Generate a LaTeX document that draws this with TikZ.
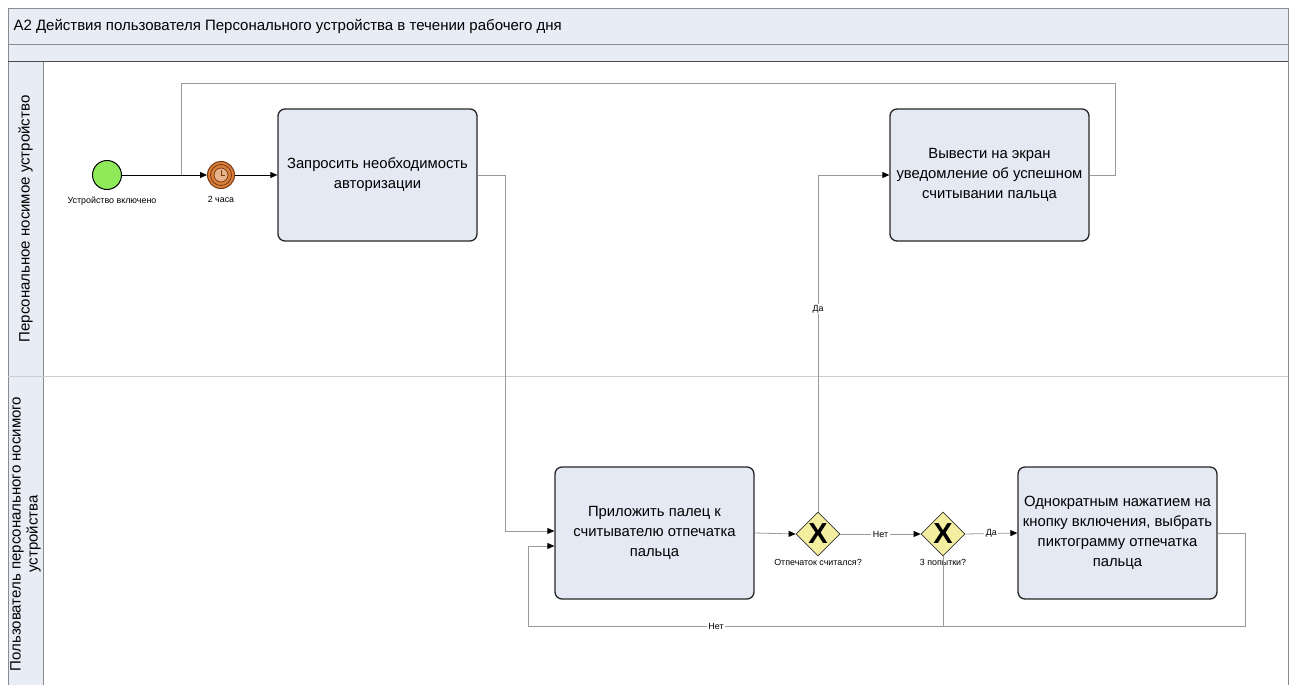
\documentclass[tikz,border=0pt]{standalone}
\usepackage{fontspec}
\setmainfont{Liberation Sans}
\usetikzlibrary{arrows.meta,shapes.geometric,calc}
\definecolor{bandfill}{HTML}{E8ECF4}
\definecolor{taskfill}{HTML}{E4E9F4}
\definecolor{gwfill}{HTML}{F4EFA0}
\definecolor{startfill}{HTML}{8FEA5A}
\definecolor{timerfill}{HTML}{D9803C}
\definecolor{timerdark}{HTML}{7A3A12}
\definecolor{frameline}{HTML}{8C8C8C}
\definecolor{flowgray}{HTML}{9A9A9A}
\tikzset{
  task/.style={draw=black!85, line width=1.3pt, rounded corners=7pt, fill=taskfill,
    minimum width=199pt, minimum height=132pt, align=center,
    inner sep=1pt, font=\fontsize{14.8}{19.8}\selectfont},
  gateway/.style={shape=diamond, draw=black!80, line width=0.8pt, fill=gwfill,
    minimum width=44pt, minimum height=44pt, inner sep=0pt,
    font=\fontsize{29}{29}\selectfont\bfseries},
  small/.style={font=\fontsize{8.9}{10}\selectfont},
  flowlbl/.style={font=\fontsize{8.9}{10}\selectfont, fill=white, inner sep=1.5pt},
  tip/.style={-{Triangle[length=7pt,width=6pt,color=black]}},
  blackflow/.style={draw=black, line width=0.8pt, tip},
  grayflow/.style={draw=flowgray, line width=0.8pt, tip},
  grayline/.style={draw=flowgray, line width=0.8pt},
}
\begin{document}
\begin{tikzpicture}[x=1pt,y=-1pt]
\useasboundingbox (0,0) rectangle (1294,685);
% pool frame
\fill[bandfill] (8,8) rectangle (1288,62);
\fill[bandfill] (8,62) rectangle (43,690);
\draw[frameline, line width=0.8pt] (8,690) -- (8,8) -- (1288,8) -- (1288,690);
\draw[frameline, line width=0.8pt] (8,44) -- (1288,44);
\draw[black!70, line width=1pt] (8,62) -- (1288,62);
\draw[frameline, line width=0.8pt] (43,62) -- (43,690);
\draw[black!20, line width=0.8pt] (8,376) -- (1288,376);
\node[anchor=west, font=\fontsize{15}{17}\selectfont] (title) at (10,26)
  {A2 Действия пользователя Персонального устройства в течении рабочего дня};
\node[rotate=90, font=\fontsize{15}{17}\selectfont] (lane1) at (25.5,219)
  {Персональное носимое устройство};
\node[rotate=90, align=center, font=\fontsize{15}{17}\selectfont] (lane2) at (25.5,534)
  {Пользователь персонального носимого\\устройства};

% events
\node[circle, draw=black, line width=1pt, fill=startfill, minimum size=29pt, inner sep=0pt] (start) at (107,175) {};
\node[small, anchor=north] (startlbl) at (112,193) {Устройство включено};
\node[circle, draw=timerdark, line width=1pt, fill=timerfill, minimum size=27pt, inner sep=0pt] (timer) at (221,175) {};
\draw[timerdark, line width=0.8pt] (timer.center) circle (10.5pt);
\draw[timerdark, fill=timerfill!60, line width=0.8pt] (timer.center) circle (7pt);
\draw[timerdark, line width=0.9pt] (timer.center) -- ++(0,-5) (timer.center) -- ++(4,0);
\node[small, anchor=north] (timerlbl) at (221,193) {2 часа};

% tasks
\node[task] (t1) at (377.5,175) {Запросить необходимость\\авторизации};
\node[task] (t2) at (989.5,175) {Вывести на экран\\уведомление об успешном\\считывании пальца};
\node[task] (t3) at (654.5,533) {Приложить палец к\\считывателю отпечатка\\пальца};
\node[task] (t4) at (1117.5,533) {Однократным нажатием на\\кнопку включения, выбрать\\пиктограмму отпечатка\\пальца};

% gateways
\node[gateway] (g1) at (818,534) {X};
\node[small, anchor=north] (g1lbl) at (818,556) {Отпечаток считался?};
\node[gateway] (g2) at (943,534) {X};
\node[small, anchor=north] (g2lbl) at (943,556) {3 попытки?};

% coordinates
\coordinate (loopR) at (1115,83);
\coordinate (loopL) at (181,83);
\coordinate (loopJ) at (181,175);
\coordinate (t1down) at (505,175);
\coordinate (t3in1) at ($(t3.west)+(0,-2)$);
\coordinate (t3in2) at ($(t3.west)+(0,13)$);
\coordinate (backBR) at (943,626);
\coordinate (backBL) at (528,626);
\coordinate (t4outR) at (1245,533);
\coordinate (t4outB) at (1245,626);
\coordinate (g1up) at (818,175);

% flows
\draw[blackflow] (start) -- (timer);
\draw[blackflow] (timer) -- (t1);
\draw[grayline] (t2.east) -| (loopR) -- (loopL) -- (loopJ);
\draw[grayflow] (t1.east) -- (t1down) |- (t3in1);
\draw[grayflow] (t3.east) -- (g1.west);
\draw[grayflow] (g1.north) -- (g1up) -- (t2.west);
\node[flowlbl] (da1) at (818,309) {Да};
\draw[grayflow] (g1.east) -- node[flowlbl] (net1) {Нет} (g2.west);
\draw[grayflow] (g2.east) -- node[flowlbl] (da2) {Да} (t4.west);
\draw[grayflow] (g2.south) -- (backBR) -- (backBL) |- (t3in2);
\node[flowlbl] (net2) at (716,626) {Нет};
\draw[grayline] (t4.east) -- (t4outR) -- (t4outB) -- (backBR);
\end{tikzpicture}
\end{document}
